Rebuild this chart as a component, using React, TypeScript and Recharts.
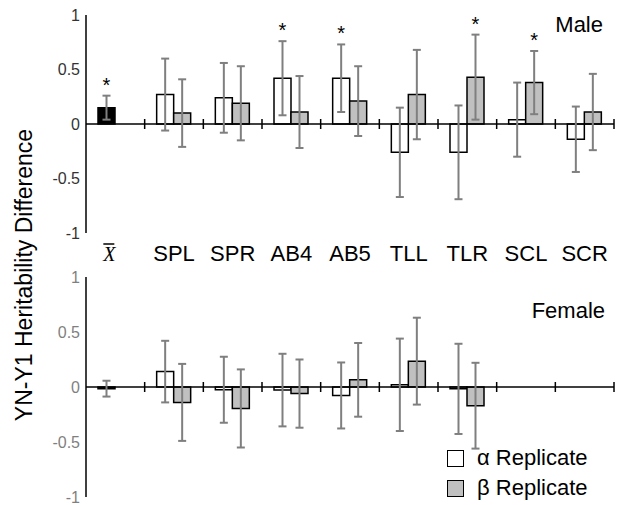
import { BarChart, Bar, XAxis, YAxis, ReferenceLine, ErrorBar, Cell, LabelList, Legend } from 'recharts';

const categories = ['X̄', 'SPL', 'SPR', 'AB4', 'AB5', 'TLL', 'TLR', 'SCL', 'SCR'];
const yTicks = [-1, -0.5, 0, 0.5, 1];

// male panel
const maleAlpha = [0.15, 0.27, 0.24, 0.42, 0.42, -0.26, -0.26, 0.04, -0.14];
const maleAlphaErr = [0.11, 0.33, 0.32, 0.34, 0.31, 0.41, 0.43, 0.34, 0.3];
const maleBeta = [null, 0.1, 0.19, 0.11, 0.21, 0.27, 0.43, 0.38, 0.11];
const maleBetaErr = [null, 0.31, 0.34, 0.33, 0.32, 0.41, 0.39, 0.29, 0.35];
const maleAlphaSig = [true, false, false, true, true, false, false, false, false];
const maleBetaSig = [false, false, false, false, false, false, true, true, false];

// female panel
const femaleAlpha = [-0.015, 0.14, -0.025, -0.028, -0.077, 0.02, -0.017, null, null];
const femaleAlphaErr = [0.072, 0.28, 0.3, 0.33, 0.3, 0.42, 0.41, null, null];
const femaleBeta = [null, -0.14, -0.195, -0.06, 0.065, 0.235, -0.17, null, null];
const femaleBetaErr = [null, 0.35, 0.355, 0.31, 0.335, 0.395, 0.39, null, null];
const noSig = categories.map(() => false);

const FONT = '"Liberation Sans", Arial, sans-serif';
const ERR_COLOR = '#7f7f7f';
const BETA_FILL = '#c0c0c0';

type Row = { cat: string; a: number | null; aErr: number | null; b: number | null; bErr: number | null; aSig: boolean; bSig: boolean };

function buildRows(a: (number | null)[], aErr: (number | null)[], b: (number | null)[], bErr: (number | null)[], aSig: boolean[], bSig: boolean[]): Row[] {
  return categories.map((cat, i) => ({ cat, a: a[i], aErr: aErr[i], b: b[i], bErr: bErr[i], aSig: aSig[i], bSig: bSig[i] }));
}

const maleRows = buildRows(maleAlpha, maleAlphaErr, maleBeta, maleBetaErr, maleAlphaSig, maleBetaSig);
const femaleRows = buildRows(femaleAlpha, femaleAlphaErr, femaleBeta, femaleBetaErr, noSig, noSig);

// asterisk above the error bar of significant bars
// (label indices skip the null entries of a series)
const starContent = (rows: Row[], key: 'a' | 'b') => {
  const drawn = rows.filter((r) => r[key] != null);
  return (props: any) => {
    const row = drawn[props.index];
    if (!row || !(key === 'a' ? row.aSig : row.bSig)) return null;
    const vb = props.viewBox || props;
    const value = row[key] as number;
    const err = (key === 'a' ? row.aErr : row.bErr) as number;
    const h = Number(vb.height);
    const y = Number(vb.y);
    const top = Math.min(y, y + h);
    const bottom = Math.max(y, y + h);
    const k = Math.abs(h) / Math.abs(value);
    const zeroY = value >= 0 ? bottom : top;
    const errTop = zeroY - (value + err) * k;
    return (
      <text x={Number(vb.x) + Number(vb.width) / 2} y={errTop - 4} textAnchor="middle" fontSize={20} fill="#000" fontFamily={FONT}>
        *
      </text>
    );
  };
};

const CategoryTick = (props: any) => {
  const { x, y, payload } = props;
  if (payload.value === 'X̄') {
    return (
      <g>
        <line x1={x - 12} x2={x - 1} y1={y + 3} y2={y + 3} stroke="#000" strokeWidth={1.5} />
        <text x={x - 6} y={y + 20} textAnchor="middle" fontSize={20} fontStyle="italic" fontFamily='"Liberation Serif", serif' fill="#000">
          X
        </text>
      </g>
    );
  }
  return (
    <text x={x} y={y + 20} textAnchor="middle" fontSize={22} fill="#000" fontFamily={FONT}>
      {payload.value}
    </text>
  );
};

// short tick crossing the zero line at each category boundary
const BoundaryTick = (props: any) => {
  const { x1, y1, y2 } = props;
  const mid = (Number(y1) + Number(y2)) / 2;
  return <line x1={x1} x2={x1} y1={mid - 5} y2={mid + 5} stroke="#000" strokeWidth={1.5} />;
};

const boundaryTicks = () => [
  ...categories.slice(1).map((c) => (
    <ReferenceLine key={c} x={c} position="start" shape={<BoundaryTick />} ifOverflow="visible" />
  )),
  <ReferenceLine key="end" x={categories[categories.length - 1]} position="end" shape={<BoundaryTick />} ifOverflow="visible" />,
];

const renderLegend = (props: any) => {
  const payload = props.payload || [];
  return (
    <div style={{ fontFamily: FONT, fontSize: 22, color: '#000' }}>
      {payload.map((e: any, i: number) => (
        <div key={i} style={{ display: 'flex', alignItems: 'center', height: 30 }}>
          <span style={{ display: 'inline-block', boxSizing: 'border-box', width: 17, height: 17, border: '1.5px solid #000', background: e.color, marginRight: 13 }} />
          <span>{e.value}</span>
        </div>
      ))}
    </div>
  );
};

function Panel({ rows, tickColor, showX, legend }: { rows: Row[]; tickColor: string; showX: boolean; legend: boolean }) {
  return (
    <BarChart
      width={618}
      height={showX ? 272 : 245}
      data={rows}
      barGap={0}
      margin={showX ? { top: 15, right: 4, bottom: 12, left: 0 } : { top: 17, right: 4, bottom: 8, left: 0 }}
    >
      <XAxis dataKey="cat" hide={!showX} height={27} axisLine={false} tickLine={false} tick={<CategoryTick />} interval={0} />
      <YAxis
        type="number"
        domain={[-1, 1]}
        ticks={yTicks}
        interval={0}
        width={86}
        axisLine={{ stroke: '#000', strokeWidth: 1.5 }}
        tickLine={false}
        tickMargin={0}
        tick={{ fill: tickColor, fontSize: 16, fontFamily: FONT }}
      />
      <ReferenceLine y={0} stroke="#000" strokeWidth={1.5} />
      {boundaryTicks()}
      <Bar dataKey="a" name="α Replicate" fill="#fff" stroke="#000" strokeWidth={1.5} barSize={17} isAnimationActive={false}>
        {rows.map((r, i) => (
          <Cell key={i} fill={i === 0 ? '#000' : '#fff'} />
        ))}
        <ErrorBar dataKey="aErr" width={4} stroke={ERR_COLOR} strokeWidth={2} />
        <LabelList dataKey="a" content={starContent(rows, 'a')} />
      </Bar>
      <Bar dataKey="b" name="β Replicate" fill={BETA_FILL} stroke="#000" strokeWidth={1.5} barSize={17} isAnimationActive={false}>
        <ErrorBar dataKey="bErr" width={4} stroke={ERR_COLOR} strokeWidth={2} />
        <LabelList dataKey="b" content={starContent(rows, 'b')} />
      </Bar>
      {legend && (
        <Legend
          layout="vertical"
          align="center"
          verticalAlign="middle"
          content={renderLegend}
          wrapperStyle={{ position: 'absolute', left: 447, top: 183, width: 170, right: 'auto', bottom: 'auto' }}
        />
      )}
    </BarChart>
  );
}

export default function App() {
  return (
    <div style={{ position: 'absolute', left: 0, top: 0, width: 618, height: 505, background: '#fff', fontFamily: FONT }}>
      <div style={{ position: 'absolute', left: 0, top: 0 }}>
        <Panel rows={maleRows} tickColor="#333" showX legend={false} />
      </div>
      <div style={{ position: 'absolute', left: 0, top: 260 }}>
        <Panel rows={femaleRows} tickColor="#7f7f7f" showX={false} legend />
      </div>
      <svg width={618} height={505} style={{ position: 'absolute', left: 0, top: 0, pointerEvents: 'none' }}>
        <text x={24} y={275} transform="rotate(-90 24 275)" textAnchor="middle" dominantBaseline="central" fontSize={23} fontFamily={FONT} fill="#000">
          YN-Y1 Heritability Difference
        </text>
        <text x={603} y={32} textAnchor="end" fontSize={22} fontFamily={FONT} fill="#000">
          Male
        </text>
        <text x={605} y={318} textAnchor="end" fontSize={22} fontFamily={FONT} fill="#000">
          Female
        </text>
      </svg>
    </div>
  );
}
